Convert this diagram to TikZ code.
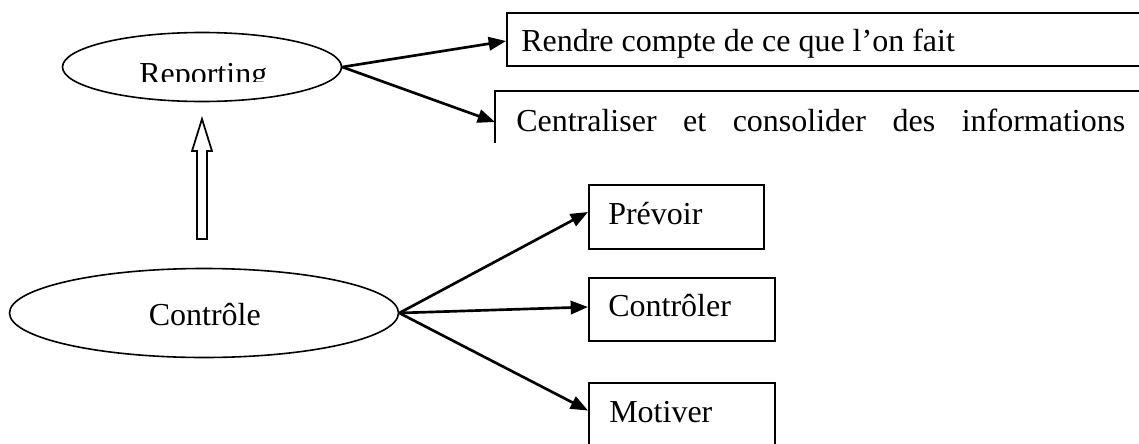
\documentclass[tikz,border=0pt]{standalone}
\usepackage{fontspec}
\setmainfont{Liberation Serif}
\usetikzlibrary{shapes.geometric,arrows.meta,calc}
\begin{document}
\begin{tikzpicture}[x=0.75pt,y=-0.75pt,
  every node/.style={font=\fontsize{24}{28}\selectfont},
  oval/.style={ellipse, draw, line width=1.2pt, inner sep=0pt},
  boxnode/.style={draw, line width=1.5pt, anchor=north west, inner sep=0pt},
  lbl/.style={anchor=base west, inner sep=0pt},
  arr/.style={line width=2pt, -{Triangle[length=13pt,width=10pt]}},
]
\useasboundingbox (0,0) rectangle (1139,443);
\clip (0,0) rectangle (1139,443);

% ellipses
\node[oval, minimum width=209.25pt, minimum height=51.75pt] (rep) at (202,67) {};
\node[oval, minimum width=291.75pt, minimum height=66.75pt] (ctl) at (204,313) {};

% boxes
\node[boxnode, minimum width=490.5pt, minimum height=39.75pt] (box1) at (506,12) {};
\node[boxnode, draw=none, minimum width=500pt, minimum height=37.5pt] (box2) at (495,91) {};
\draw[line width=1.5pt] (box2.south west) -- (box2.north west) -- (box2.north east);
\node[boxnode, minimum width=131.25pt, minimum height=48pt] (prev) at (588,184) {};
\node[boxnode, minimum width=139.5pt, minimum height=47.25pt] (ctrl) at (588,277) {};
\node[boxnode, minimum width=139.5pt, minimum height=60pt] (motiv) at (588,381.5) {};

% texts
\begin{scope}
\clip (0,0) rectangle (1139,81);
\node[lbl] (treport) at (139,84) {Reporting};
\end{scope}
\node[lbl] (tcontrole) at (148.5,325) {Contrôle};
\node[lbl] (trendre) at (521,51.7) {Rendre compte de ce que l’on fait};
\node[lbl] (tcentral) at (516,131.7) {\hbox to 456.75pt{Centraliser\hfill et\hfill consolider\hfill des\hfill informations}};
\node[lbl] (tprev) at (608,224) {Prévoir};
\node[lbl] (tctrl) at (608,316.7) {Contrôler};
\node[lbl] (tmotiv) at (609,422) {Motiver};

% arrows
\draw[arr] (rep.east) -- ($(box1.north west)+(0,29)$);
\draw[arr] (rep.east) -- ($(box2.north west)+(0,31)$);
\draw[arr] (ctl.east) -- ($(prev.north west)+(0,28)$);
\draw[arr] (ctl.east) -- ($(ctrl.north west)+(0,30)$);
\draw[arr] (ctl.east) -- ($(motiv.north west)+(0,29)$);

% hollow arrow
\coordinate (ha) at (202,239);
\coordinate (hb) at (202,119);
\draw[line width=1.3pt, fill=white] ($(ha)+(-5,0)$) -- ($(hb)+(-5,32)$) -- ($(hb)+(-10,32)$) -- (hb) -- ($(hb)+(10,32)$) -- ($(hb)+(5,32)$) -- ($(ha)+(5,0)$) -- cycle;
\end{tikzpicture}
\end{document}
